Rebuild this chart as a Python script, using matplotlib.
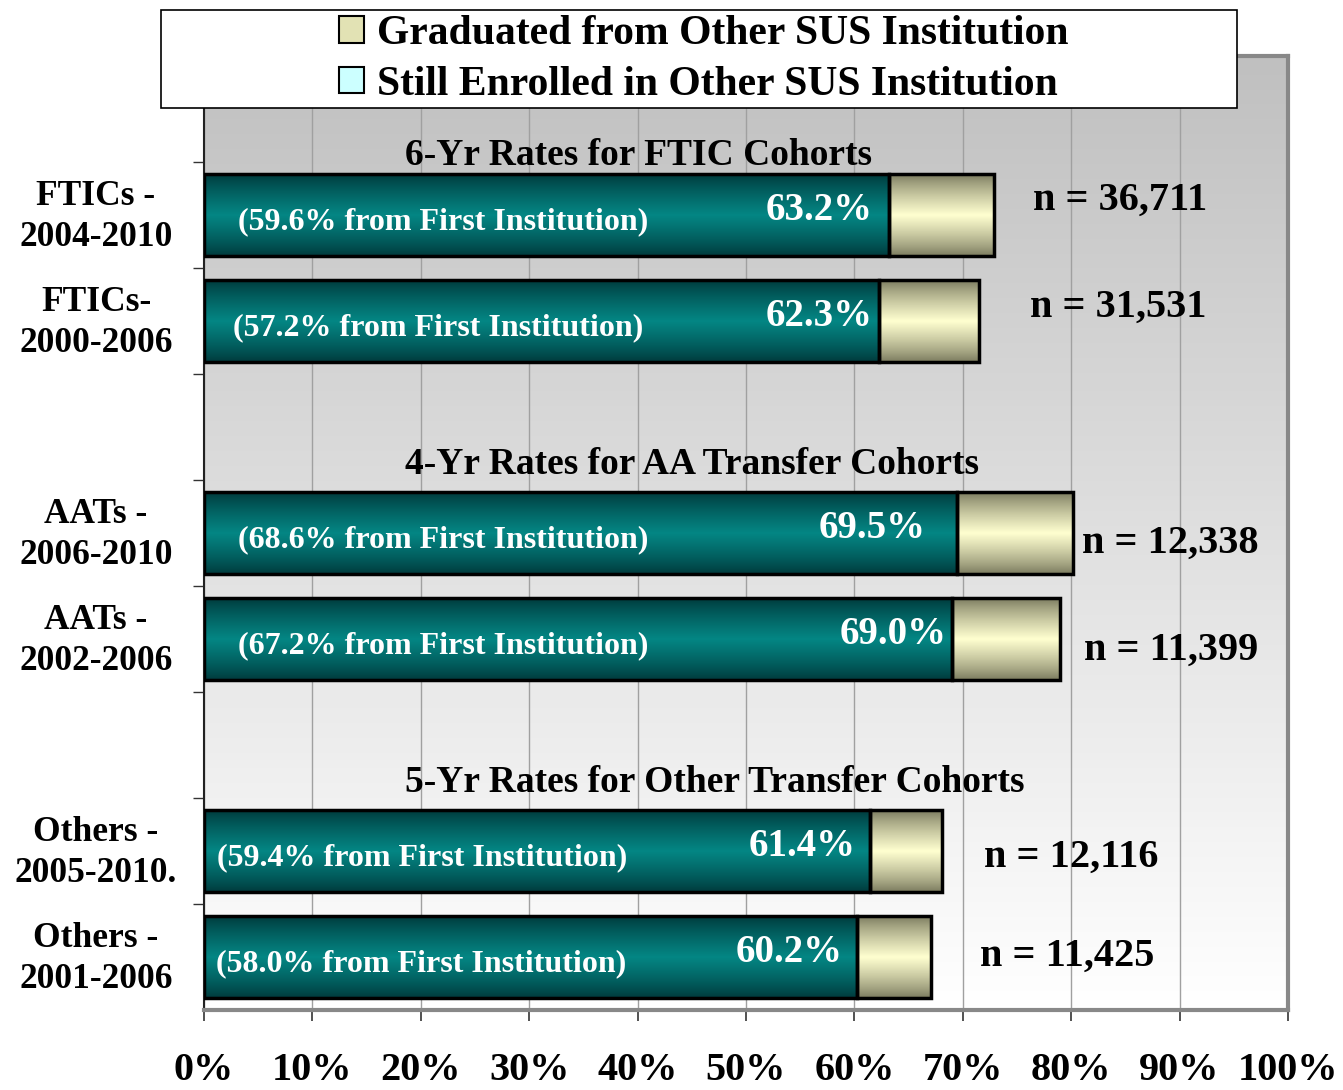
import numpy as np
import matplotlib
matplotlib.use("Agg")
import matplotlib.pyplot as plt
from matplotlib.patches import Rectangle, Patch
from matplotlib.transforms import blended_transform_factory

# ---------------- data ----------------
categories = ["FTICs -\n2004-2010", "FTICs-\n2000-2006",
              "AATs -\n2006-2010", "AATs -\n2002-2006",
              "Others -\n2005-2010.", "Others -\n2001-2006"]
total_grad = [63.2, 62.3, 69.5, 69.0, 61.4, 60.2]          # teal segment (total graduated)
from_first = [59.6, 57.2, 68.6, 67.2, 59.4, 58.0]          # % from first institution
grad_other = [9.7, 9.2, 10.7, 10.0, 6.7, 6.9]              # Graduated from Other SUS Institution
still_enrolled = [0.0, 0.0, 0.0, 0.0, 0.0, 0.0]            # Still Enrolled in Other SUS Institution (not visible)
n_counts = ["36,711", "31,531", "12,338", "11,399", "12,116", "11,425"]
group_titles = ["6-Yr Rates for FTIC Cohorts",
                "4-Yr Rates for AA Transfer Cohorts",
                "5-Yr Rates for Other Transfer Cohorts"]
legend_labels = ["Graduated from Other SUS Institution",
                 "Still Enrolled in Other SUS Institution"]
x_ticks = [0, 10, 20, 30, 40, 50, 60, 70, 80, 90, 100]

# ---------------- layout ----------------
bar_slots = np.array([1, 2, 4, 5, 7, 8])
title_y = [0.44, 3.35, 6.35]
FONT = "Liberation Serif"

fig = plt.figure(figsize=(13.43, 10.9), dpi=100)
ax = fig.add_axes([0.1519, 0.0734, 0.8071, 0.8752])

# background gradient (gray top -> white bottom)
t = np.linspace(0, 1, 256)
bg = np.repeat(((192 + 63 * t) / 255)[:, None, None], 3, axis=2)
ax.imshow(bg, extent=(0, 100, 8.5, -0.5), aspect="auto", origin="upper", zorder=0)

# bars
teal = np.array(total_grad)
oth = np.array(grad_other)
enr = np.array(still_enrolled)
bh = 0.77
b1 = ax.barh(bar_slots, teal, height=bh, facecolor="none", edgecolor="black", linewidth=2.5, zorder=3)
b2 = ax.barh(bar_slots, oth, left=teal, height=bh, facecolor="none", edgecolor="black", linewidth=2.5, zorder=3)
b3 = ax.barh(bar_slots[enr > 0], enr[enr > 0], left=(teal + oth)[enr > 0], height=bh,
             facecolor="#ccffff", edgecolor="black", linewidth=2.5, zorder=3)


def grad_img(dark, mid, n=128, power=0.8):
    tt = np.linspace(0, 1, n)
    s = (1 - np.abs(2 * tt - 1)) ** power
    dark = np.array(dark) / 255.0
    mid = np.array(mid) / 255.0
    return (dark[None, :] + (mid - dark)[None, :] * s[:, None])[:, None, :]


teal_img = grad_img((0, 56, 58), (4, 134, 132))
cream_img = grad_img((120, 120, 92), (255, 255, 208))
for bars, img in ((b1, teal_img), (b2, cream_img)):
    for p in bars.patches:
        x, y, w, h = p.get_x(), p.get_y(), p.get_width(), p.get_height()
        ax.imshow(img, extent=(x, x + w, y + h, y), aspect="auto", zorder=2.5)

ax.set_xlim(0, 100)
ax.set_ylim(8.5, -0.5)

# group titles
for ty, title in zip(title_y, group_titles):
    ax.text(18.5, ty, title, ha="left", va="center", fontsize=27,
            fontweight="bold", family=FONT, color="black", zorder=4)

# inner labels
inner_x = [3.1, 2.7, 3.1, 3.1, 1.2, 1.1]
pct_x = [61.7, 61.7, 66.6, 68.5, 60.1, 58.9]
for i, s in enumerate(bar_slots):
    ax.text(inner_x[i], s + 0.06, f"({from_first[i]:.1f}% from First Institution)",
            ha="left", va="center", fontsize=23, fontweight="bold", family=FONT,
            color="white", zorder=4)
    ax.text(pct_x[i], s - 0.04, f"{total_grad[i]:.1f}%", ha="right", va="center",
            fontsize=28, fontweight="bold", family=FONT, color="white", zorder=4)

# n labels
n_x = [76.5, 76.2, 81.0, 81.2, 72.0, 71.6]
n_y = [0.86, 1.87, 4.10, 5.11, 7.06, 7.99]
for i in range(len(n_counts)):
    ax.text(n_x[i], n_y[i], f"n = {n_counts[i]}", ha="left", va="center",
            fontsize=29, fontweight="bold", family=FONT, color="black", zorder=4)

# category labels
trans = blended_transform_factory(ax.transAxes, ax.transData)
for s, lab in zip(bar_slots, categories):
    ax.text(-0.0996, s + 0.02, lab, transform=trans, ha="center", va="center",
            multialignment="center", fontsize=25.5, fontweight="bold", family=FONT,
            linespacing=1.3, color="black")

# axes styling
ax.set_yticks([0.5, 1.5, 2.5, 3.5, 4.5, 5.5, 6.5, 7.5])
ax.set_yticklabels([])
ax.tick_params(axis="y", length=8, width=1, color="#333333", direction="out")
ax.set_xticks(x_ticks)
ax.set_xticklabels([f"{v}%" for v in x_ticks], fontsize=29, fontweight="bold", family=FONT)
ax.tick_params(axis="x", length=8, width=1.2, color="#333333", pad=22)
ax.grid(axis="x", color="#a0a0a0", linewidth=1, zorder=1)
ax.grid(axis="y", visible=False)
ax.set_axisbelow(True)
for g in ax.get_xgridlines():
    g.set_zorder(1)
ax.spines["left"].set_color("#222222")
ax.spines["left"].set_linewidth(1.5)
for k in ("bottom", "right", "top"):
    ax.spines[k].set_color("#888888")
    ax.spines[k].set_linewidth(3)

# legend box + legend
fig.add_artist(Rectangle((0.1199, 0.9009), 0.8012, 0.0899, transform=fig.transFigure,
                         facecolor="white", edgecolor="black", linewidth=1.2, zorder=5))
handles = [Patch(facecolor="#e2e2b4", edgecolor="black", linewidth=1.5),
           Patch(facecolor="#ccffff", edgecolor="black", linewidth=1.5)]
leg = fig.legend(handles, legend_labels, loc="center", bbox_to_anchor=(0.524, 0.9455),
                 frameon=False, prop={"family": FONT, "weight": "bold", "size": 30},
                 handlelength=0.6, handleheight=0.6, handletextpad=0.3, labelspacing=0.3,
                 borderpad=0.1)
leg.set_zorder(6)

fig.savefig("out.png", dpi=100)
